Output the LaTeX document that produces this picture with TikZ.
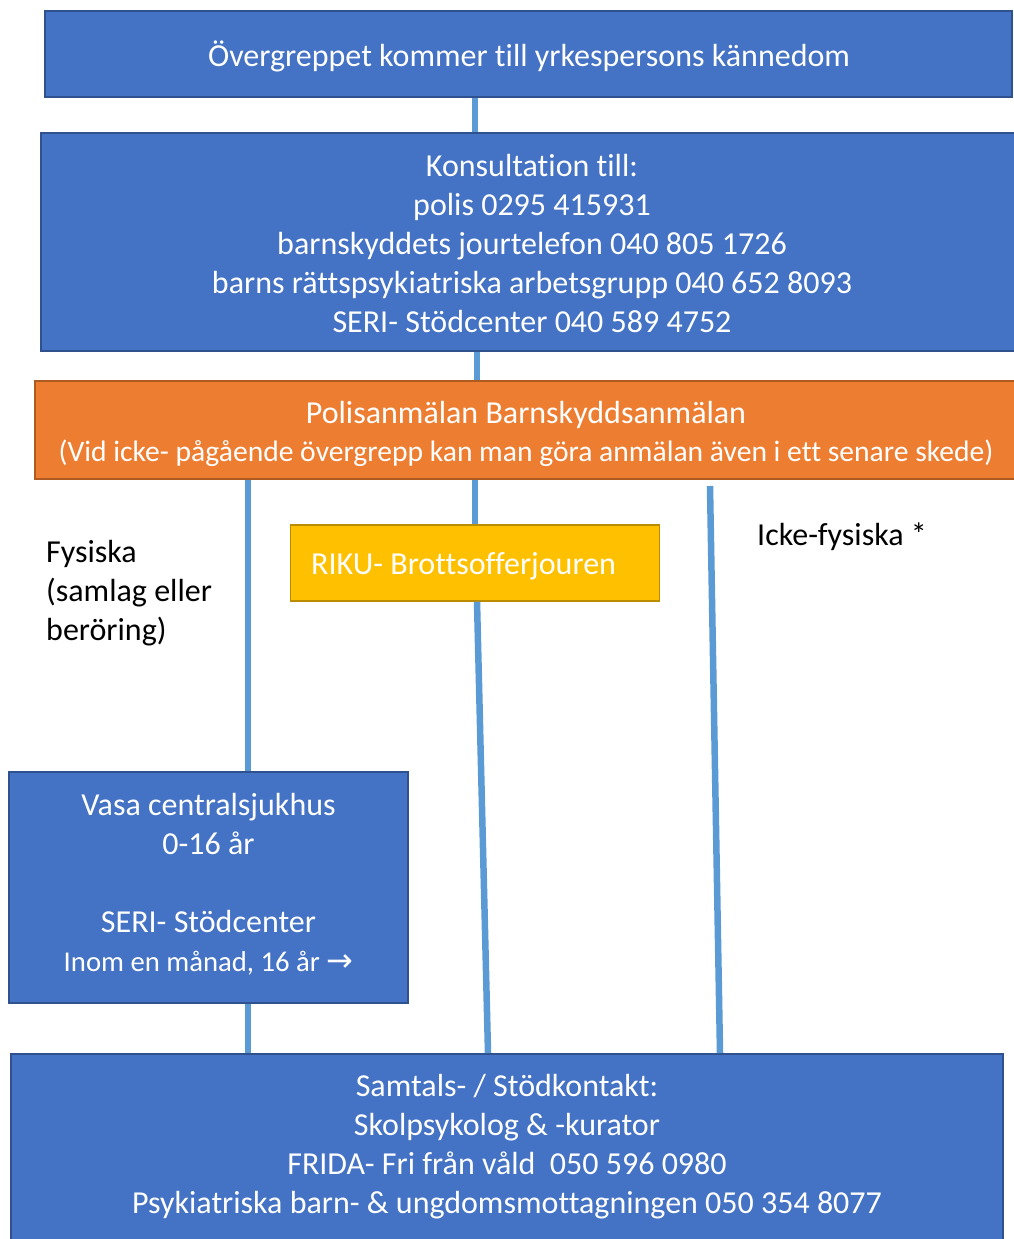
\documentclass[tikz,border=0pt]{standalone}
\usepackage{fontspec}
\setmainfont[Ligatures={NoCommon}]{Carlito}
\newfontfamily\arrowfont{DejaVu Sans}
\definecolor{boxblue}{HTML}{4472C4}
\definecolor{boxblueline}{HTML}{2F528F}
\definecolor{boxorange}{HTML}{ED7D31}
\definecolor{boxorangeline}{HTML}{AE5A21}
\definecolor{boxgold}{HTML}{FFC000}
\definecolor{boxgoldline}{HTML}{BC8C00}
\definecolor{connblue}{HTML}{5B9BD5}
\begin{document}
\begin{tikzpicture}[x=1pt,y=-1pt,
  bluebox/.style={draw=boxblueline,fill=boxblue,line width=1.5pt,inner sep=0pt},
  orangebox/.style={draw=boxorangeline,fill=boxorange,line width=1.5pt,inner sep=0pt},
  goldbox/.style={draw=boxgoldline,fill=boxgold,line width=1.5pt,inner sep=0pt},
  boxtext/.style={text=white,align=center,inner sep=0pt,font=\fontsize{32}{39}\selectfont},
  conn/.style={draw=connblue,line width=6.5pt},
  plain/.style={align=left,inner sep=0pt,font=\fontsize{32}{39}\selectfont}]
\useasboundingbox (0,0) rectangle (1013,1239);
% boxes
\node[bluebox,minimum width=967pt,minimum height=86pt] (top) at (528.5,54) {};
\node[boxtext] (toptext) at (529,56) {Övergreppet kommer till yrkespersons kännedom};
\node[bluebox,minimum width=982pt,minimum height=218pt] (kons) at (532,242) {};
\node[boxtext] (konstext) at (532,244)
  {Konsultation till:\\polis 0295 415931\\barnskyddets jourtelefon 040 805 1726\\barns rättspsykiatriska arbetsgrupp 040 652 8093\\SERI- Stödcenter 040 589 4752};
\node[orangebox,minimum width=982pt,minimum height=98pt] (anm) at (526,430) {};
\node[boxtext,font=\fontsize{32}{38}\selectfont] (anmtext) at (526,433.5)
  {Polisanmälan Barnskyddsanmälan\\{\fontsize{29.6}{38}\selectfont(Vid icke- pågående övergrepp kan man göra anmälan även i ett senare skede)}};
\node[goldbox,minimum width=369pt,minimum height=76pt] (riku) at (475,563) {};
\node[boxtext,anchor=west] (rikutext) at (311,566) {RIKU- Brottsofferjouren};
\node[bluebox,minimum width=399pt,minimum height=231pt] (vasa) at (208.5,887.5) {};
\node[boxtext] (vasatext) at (208.5,884)
  {Vasa centralsjukhus\\0-16 år\\[39pt]SERI- Stödcenter\\{\fontsize{28.7}{40}\selectfont Inom en månad, 16 år {\arrowfont\fontsize{32}{40}\selectfont →}}};
\node[bluebox,minimum width=992pt,minimum height=200pt,anchor=north] (samt) at (507,1053) {};
\node[boxtext] (samttext) at (507,1147)
  {Samtals- / Stödkontakt:\\Skolpsykolog \& -kurator\\FRIDA- Fri från våld\ \ 050 596 0980\\Psykiatriska barn- \& ungdomsmottagningen 050 354 8077};
% labels
\node[plain,anchor=west] (fys) at (46,593) {Fysiska\\(samlag eller\\beröring)};
\node[plain,anchor=west] (ickefys) at (757,537) {Icke-fysiska *};
% connector coordinates
\coordinate (lx) at (248,0);
\coordinate (rtop) at (710,486);
\coordinate (rbot) at (720,0);
\coordinate (mbot) at (488,0);
% connectors
\draw[conn] (top.south -| riku.north) -- (kons.north -| riku.north);
\draw[conn] ([xshift=2pt]kons.south -| riku.north) -- ([xshift=2pt]anm.north -| riku.north);
\draw[conn] (anm.south -| riku.north) -- (riku.north);
\draw[conn] ([xshift=2pt]riku.south) -- (samt.north -| mbot);
\draw[conn] (anm.south -| lx) -- (vasa.north -| lx);
\draw[conn] (vasa.south -| lx) -- (samt.north -| lx);
\draw[conn] (rtop) -- (samt.north -| rbot);
\end{tikzpicture}
\end{document}
